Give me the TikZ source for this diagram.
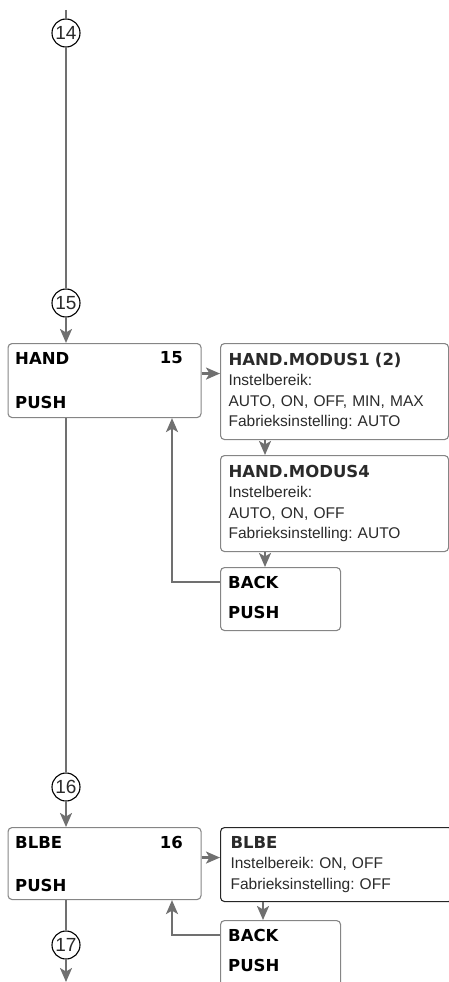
\documentclass[tikz,border=0pt]{standalone}
\usepackage{fontspec}
\setmainfont{Liberation Sans}
\newfontfamily\headfont{DejaVu Sans}
\usepackage{xcolor}
\usetikzlibrary{arrows.meta}
\frenchspacing

\definecolor{linegray}{HTML}{707070}
\definecolor{boxgray}{HTML}{858585}
\definecolor{txtgray}{HTML}{2A2A2A}

\tikzset{
  menubox/.style={draw=boxgray, line width=1.1pt, rounded corners=4pt, anchor=north west, inner sep=0pt},
  infobox/.style={menubox, align=left, text width=212pt, inner xsep=8pt, text=txtgray, font=\fontsize{15.5}{20.5}\selectfont},
  keylbl/.style={font=\headfont\bfseries\fontsize{16.5}{19}\selectfont, text=black, inner sep=0pt},
  stepnum/.style={draw=black, circle, line width=1.1pt, minimum size=28pt, inner sep=0pt, fill=white, text=txtgray, font=\fontsize{19}{19}\selectfont},
  conn/.style={draw=linegray, line width=2.2pt},
  flow/.style={conn, -{Stealth[length=14pt,width=12pt,inset=3.5pt]}}
}

\newcommand{\hd}[1]{{\headfont\bfseries\fontsize{16.5}{20}\selectfont #1}}

\begin{document}
\begin{tikzpicture}[x=1pt,y=-1pt]
  \useasboundingbox (0,0) rectangle (449,982);
  % step markers
  \coordinate (top) at (66,10);
  \coordinate (bottom) at (66,982);
  \node[stepnum] (s14) at (66,33) {14};
  \node[stepnum] (s15) at (66,303) {15};
  \node[stepnum] (s16) at (66,787) {16};
  \node[stepnum] (s17) at (66,945) {17};
  % menu HAND
  \node[menubox, minimum width=193pt, minimum height=74pt] (hand) at (7.5,343) {};
  \node[keylbl, anchor=west] (handname) at (15,358) {HAND};
  \node[keylbl, anchor=east] (handno) at (183,358) {15};
  \node[keylbl, anchor=west] (handpush) at (15,402) {PUSH};
  \node[infobox, minimum width=228pt, minimum height=96pt] (mod1) at (220,343)
    {\hd{HAND.MODUS1 (2)}\\Instelbereik:\\AUTO, ON, OFF, MIN, MAX\\Fabrieksinstelling: AUTO};
  \node[infobox, minimum width=228pt, minimum height=96pt] (mod4) at (220,455)
    {\hd{HAND.MODUS4}\\Instelbereik:\\AUTO, ON, OFF\\Fabrieksinstelling: AUTO};
  \node[menubox, minimum width=120pt, minimum height=63pt] (back1) at (220,567) {};
  \node[keylbl, anchor=west] (back1name) at (228,582) {BACK};
  \node[keylbl, anchor=west] (back1push) at (228,612) {PUSH};
  % menu BLBE
  \node[menubox, minimum width=193pt, minimum height=72pt] (blbe) at (7.5,827) {};
  \node[keylbl, anchor=west] (blbename) at (15,842) {BLBE};
  \node[keylbl, anchor=east] (blbeno) at (183,842) {16};
  \node[keylbl, anchor=west] (blbepush) at (15,885) {PUSH};
  \node[infobox, draw=black!85, minimum width=232pt, minimum height=74pt] (blbeset) at (220,827)
    {\hd{BLBE}\\Instelbereik: ON, OFF\\Fabrieksinstelling: OFF};
  \node[menubox, minimum width=120pt, minimum height=70pt] (back2) at (220,920) {};
  \node[keylbl, anchor=west] (back2name) at (228,935) {BACK};
  \node[keylbl, anchor=west] (back2push) at (228,965) {PUSH};
  % main line
  \draw[conn] (top) -- (s14);
  \draw[conn] (s14) -- (s15);
  \draw[flow] (s15) -- (hand.north -| s15);
  \draw[conn] (hand.south -| s16) -- (s16);
  \draw[flow] (s16) -- (blbe.north -| s16);
  \draw[conn] (blbe.south -| s17) -- (s17);
  \draw[flow] (s17) -- (bottom);
  % HAND branch
  \coordinate (handout) at ([yshift=7pt]hand.east);
  \coordinate (dn1) at (265,0);
  \coordinate (ret1) at (172,0);
  \draw[flow] (handout) -- (handout -| mod1.west);
  \draw[flow] (mod1.south -| dn1) -- (mod4.north -| dn1);
  \draw[flow] (mod4.south -| dn1) -- (back1.north -| dn1);
  \draw[flow] (back1.west |- back1name) -| (hand.south -| ret1);
  % BLBE branch
  \coordinate (blbeout) at ([yshift=6pt]blbe.east);
  \coordinate (dn2) at (263,0);
  \draw[flow] (blbeout) -- (blbeout -| blbeset.west);
  \draw[flow] (blbeset.south -| dn2) -- (back2.north -| dn2);
  \draw[flow] (back2.west |- back2name) -| (blbe.south -| ret1);
\end{tikzpicture}
\end{document}
